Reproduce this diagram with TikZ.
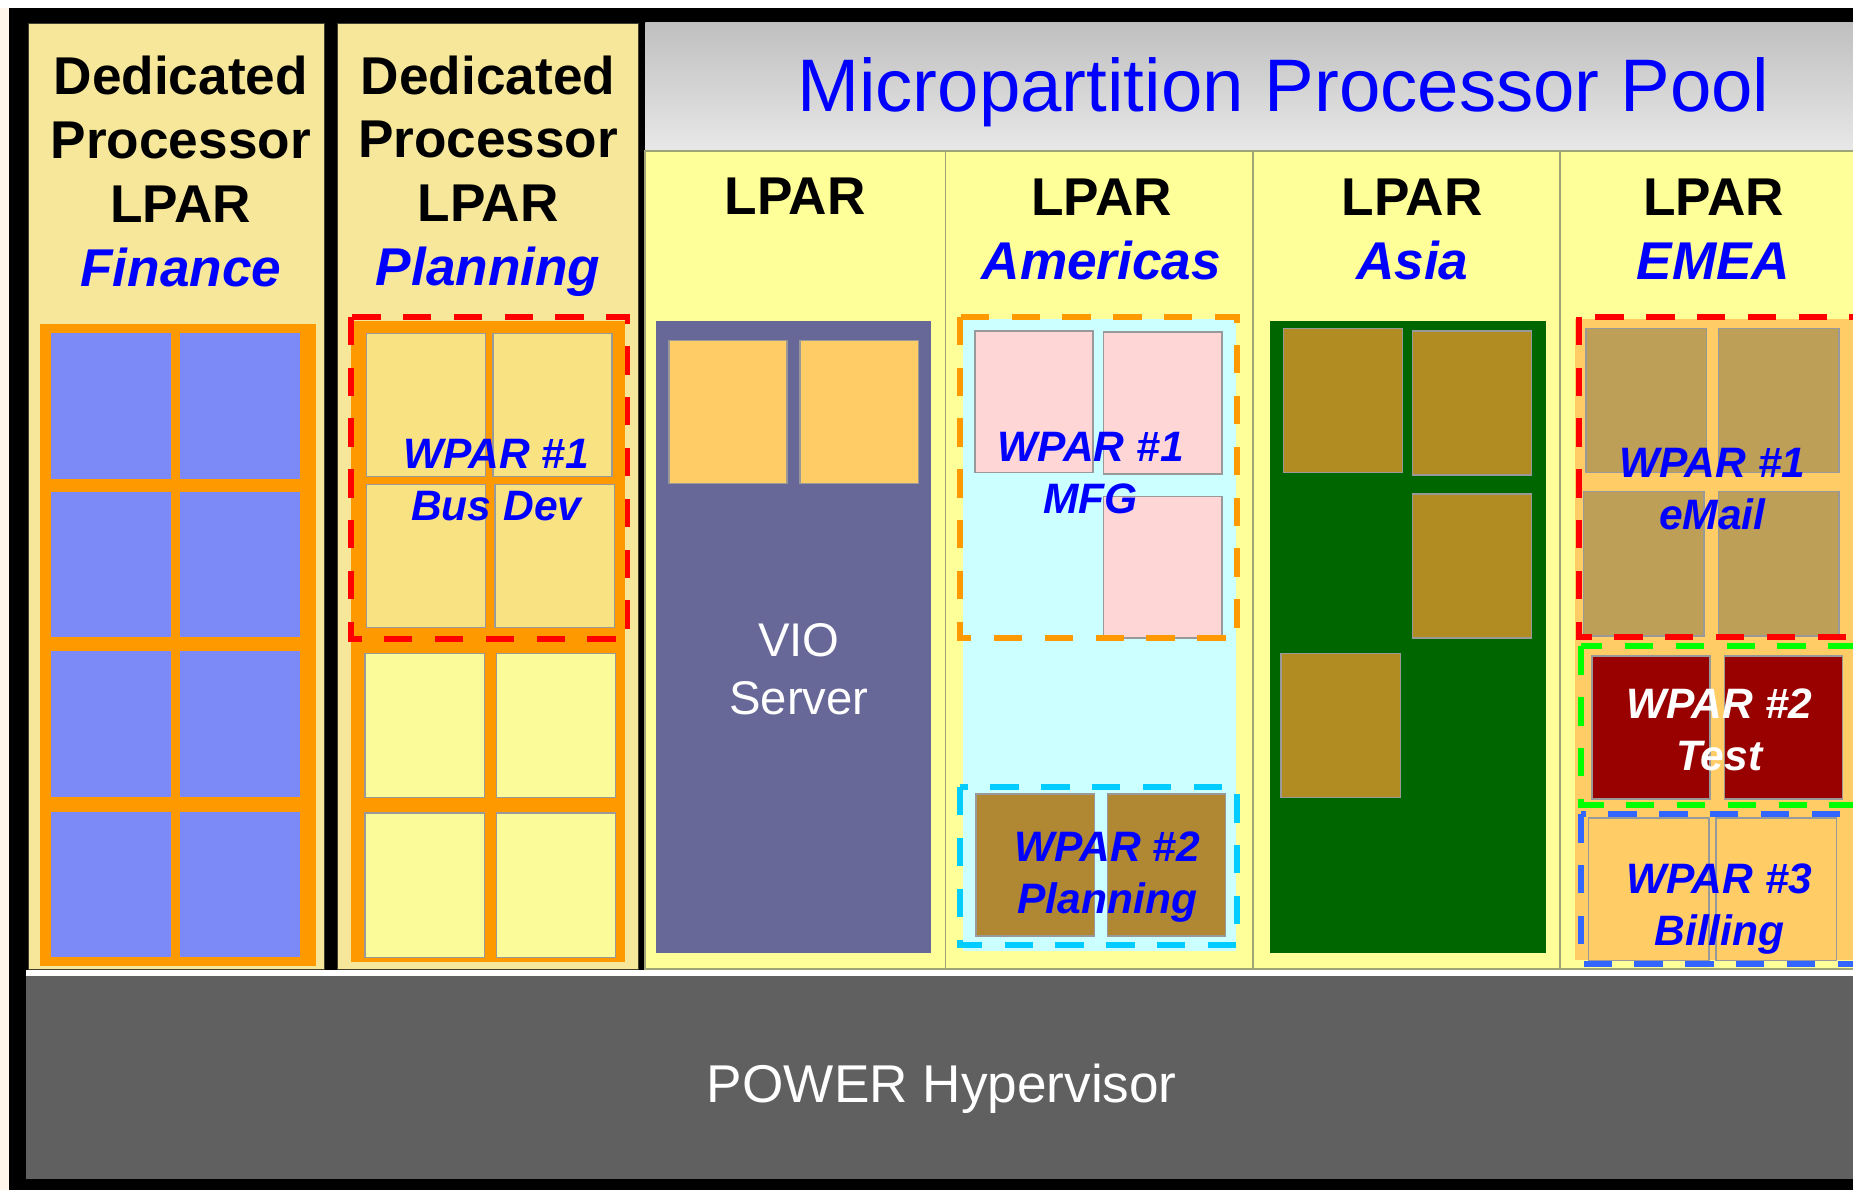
\documentclass[tikz,border=0pt]{standalone}
\usepackage{fontspec}
\setmainfont{Liberation Sans}
\usetikzlibrary{positioning}
\definecolor{cream}{RGB}{246,231,154}
\definecolor{lparyellow}{RGB}{255,255,153}
\definecolor{gridorange}{RGB}{255,153,0}
\definecolor{cpublue}{RGB}{124,138,248}
\definecolor{cputan}{RGB}{248,226,130}
\definecolor{cpupale}{RGB}{251,251,153}
\definecolor{vioblue}{RGB}{104,104,152}
\definecolor{cpuorange}{RGB}{255,204,102}
\definecolor{mfgcyan}{RGB}{204,255,255}
\definecolor{mfgpink}{RGB}{255,214,214}
\definecolor{planbrown}{RGB}{176,136,52}
\definecolor{asiagreen}{RGB}{0,102,0}
\definecolor{asiaolive}{RGB}{176,140,34}
\definecolor{emeatan}{RGB}{189,159,87}
\definecolor{testred}{RGB}{153,0,0}
\definecolor{hypergrey}{RGB}{96,96,96}
\definecolor{lparline}{RGB}{160,165,120}
\definecolor{wparcyan}{RGB}{0,204,255}
\definecolor{wparblue}{RGB}{51,102,255}

\begin{document}
\begin{tikzpicture}[x=1pt,y=-1pt,
    cpu/.style={draw=black!40,line width=1.2pt},
    wparbox/.style={line width=5pt,dash pattern=on 24pt off 19pt},
    heading/.style={font=\bfseries\fontsize{45}{54}\selectfont,align=center,inner sep=0pt},
    wparlabel/.style={font=\bfseries\itshape\fontsize{36}{44}\selectfont,text=blue,align=center,inner sep=0pt}]
    \useasboundingbox (0,0) rectangle (1568,1007);
    \clip (0,0) rectangle (1568,1007);
    \fill[white] (0,0) rectangle (1568,1007);
    \fill[orange!8] (0,7) rectangle (8,1007);
    \fill[black] (8,7) rectangle (1600,1007);

    \fill[hypergrey] (22,826) rectangle (1600,998);
    \fill[white] (22,821) rectangle (1600,826);

    \filldraw[fill=cream,draw=black!70!olive] (24,20) rectangle (274,820);
    \filldraw[fill=cream,draw=black!70!olive] (285,20) rectangle (540,820);
    \shade[top color=black!25,bottom color=black!9] (546,19) rectangle (1600,128);
    \filldraw[fill=lparyellow,draw=lparline,line width=1.5pt] (546,128) rectangle (1600,820);
    \foreach \x in {800,1060,1320}
        \draw[lparline,line width=1.5pt] (\x,128) -- (\x,820);

    % Finance
    \fill[gridorange] (34,274) rectangle (267,817);
    \foreach \x in {43,152}
        \foreach \y in {282,416,551,687}
            \fill[cpublue] (\x,\y) rectangle ++(102,123);

    % Planning
    \fill[gridorange] (297,272) rectangle (529,814);
    \foreach \x/\y in {310/282,417/282,310/410,419/410}
        \draw[cpu,fill=cputan] (\x,\y) rectangle ++(101,121);
    \foreach \x/\y in {309/553,420/553,309/688,420/688}
        \draw[cpu,fill=cpupale] (\x,\y) rectangle ++(101,122);
    \draw[wparbox,red] (297,268) rectangle (531,541);

    % VIO
    \fill[vioblue] (555,272) rectangle (788,806);
    \foreach \x in {566,677}
        \draw[cpu,fill=cpuorange] (\x,288) rectangle ++(100,121);

    % Americas
    \fill[mfgcyan] (815,270) rectangle (1046,805);
    \foreach \x/\y in {825/280,934/281,934/420}
        \draw[cpu,fill=mfgpink] (\x,\y) rectangle ++(100,120);
    \foreach \x in {826,937}
        \draw[cpu,fill=planbrown] (\x,672) rectangle ++(100,120);
    \draw[wparbox,gridorange] (812,268) rectangle (1047,540);
    \draw[wparbox,wparcyan] (812,666) rectangle (1047,800);

    % Asia
    \fill[asiagreen] (1075,272) rectangle (1308,806);
    \foreach \x/\y in {1086/278,1195/280,1195/418,1084/553}
        \draw[cpu,fill=asiaolive] (\x,\y) rectangle ++(101,122);

    % EMEA
    \fill[cpuorange] (1333,270) rectangle (1600,812);
    \foreach \x/\y in {1342/278,1454/278,1340/416,1454/416}
        \draw[cpu,fill=emeatan] (\x,\y) rectangle ++(102,122);
    \foreach \x in {1347,1459}
        \draw[cpu,fill=testred] (\x,555) rectangle ++(100,121);
    \foreach \x in {1344,1452}
        \draw[cpu,fill=cpuorange] (\x,692) rectangle ++(102,121);
    \draw[wparbox,red] (1336,268) rectangle (1600,539);
    \draw[wparbox,green] (1338,547) rectangle (1600,681);
    \draw[wparbox,wparblue] (1338,689) rectangle (1600,816);

    \node[heading] (finance) at (153,145) {Dedicated\\Processor\\LPAR\\{\itshape\color{blue}Finance}};
    \node[heading] (planning) at (413,149) {Dedicated\\Processor\\LPAR\\{\itshape\color{blue}Planning}};
    \node[font=\fontsize{63}{70}\selectfont,text=blue,inner sep=0pt] (pool) at (1086,78) {Micropartition Processor Pool};
    \node[heading] (vio) at (673,166) {LPAR};
    \node[heading] (americas) at (932,194) {LPAR\\{\itshape\color{blue}Americas}};
    \node[heading] (asia) at (1195,194) {LPAR\\{\itshape\color{blue}Asia}};
    \node[heading] (emea) at (1450,194) {LPAR\\{\itshape\color{blue}EMEA}};

    \node[font=\fontsize{40}{49}\selectfont,text=white,align=center,inner sep=0pt] (server) at (676,566) {VIO\\Server};
    \node[wparlabel] (busdev) at (420,406) {WPAR \#1\\Bus Dev};
    \node[wparlabel] (mfg) at (923,400) {WPAR \#1\\MFG};
    \node[wparlabel] (planwpar) at (937,742) {WPAR \#2\\Planning};
    \node[wparlabel] (email) at (1449,414) {WPAR \#1\\eMail};
    \node[wparlabel,text=white] (test) at (1455,618) {WPAR \#2\\Test};
    \node[wparlabel] (billing) at (1455,769) {WPAR \#3\\Billing};

    \node[font=\fontsize{45}{54}\selectfont,text=white,inner sep=0pt] (hyper) at (797,921) {POWER Hypervisor};
\end{tikzpicture}
\end{document}
